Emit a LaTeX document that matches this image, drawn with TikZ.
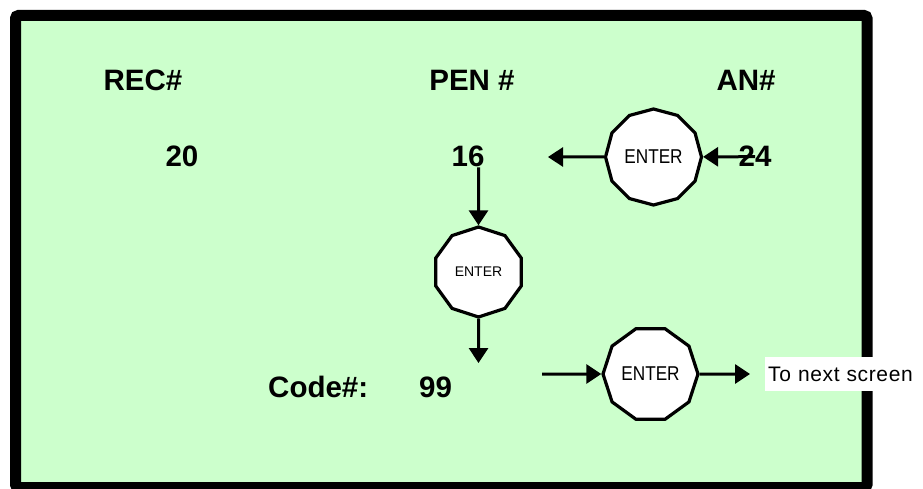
\documentclass[tikz,border=0pt]{standalone}
\usepackage{fontspec}
\setmainfont{Liberation Sans}
\definecolor{screengreen}{RGB}{204, 255, 204}
\usepackage{tikz}
\usetikzlibrary{shapes.geometric, arrows.meta, positioning, calc}
\tikzset{
    screen/.style={draw=black, line width=11pt, fill=screengreen, rounded corners=3pt},
    fieldtext/.style={inner sep=0pt, anchor=base, font=\fontsize{29.5}{31}\selectfont\bfseries},
    enterbox/.style={regular polygon, regular polygon sides=10, draw=black, fill=white,
                     line width=3.2pt, inner sep=0pt, font=\fontsize{20}{22}\selectfont},
    nextbox/.style={fill=white, anchor=west, minimum height=34pt, inner xsep=3pt,
                    text width=154pt, align=left, font=\fontsize{21}{23}\selectfont\addfontfeatures{LetterSpace=3}},
    arrow/.style={-{Triangle[length=15pt, width=19pt]}, line width=3pt},
}
\begin{document}
\begin{tikzpicture}[x=1pt, y=-1pt]
            \useasboundingbox (0, 0) rectangle (923, 489);
            \draw[screen] (15.5, 15.5) rectangle (867, 487.5);
            
            \node[fieldtext] (rec) at (143, 91) {REC\#};
            \node[fieldtext] (pen) at (472, 91) {PEN \#};
            \node[fieldtext] (an) at (746, 91) {AN\#};
            \node[fieldtext] (n20) at (182, 167) {20};
            \node[fieldtext] (n16) at (468, 167) {16};
            \node[fieldtext] (n24) at (755, 167) {24};
            \node[fieldtext, anchor=base west] (code) at (268, 397) {Code\#:};
            \node[fieldtext] (n99) at (435.5, 397) {99};
            
            \node[enterbox, regular polygon sides=12, minimum size=96pt, shape border rotate=15] (enterA) at (653.5, 157) {\scalebox{0.86}[1]{ENTER}};
            \node[enterbox, minimum size=90pt, shape border rotate=18, font=\fontsize{14}{16}\selectfont] (enterB) at (478.5, 272) {ENTER};
            \node[enterbox, minimum size=95pt] (enterC) at (650.5, 374) {\scalebox{0.86}[1]{ENTER}};
            \node[nextbox] (next) at (765, 374) {To next screen};
            
            \coordinate (tipA) at (548, 157);
            \coordinate (tipB) at (478.5, 363);
            \coordinate (startC) at (542, 374);
            
            \draw[arrow] (n24.center) -- (enterA);
            \draw[arrow] (enterA) -- (tipA);
            \draw[arrow] (enterB |- n16.south) -- (enterB);
            \draw[arrow] (enterB) -- (tipB);
            \draw[arrow] (startC) -- (enterC);
            \draw[arrow, shorten >=15pt] (enterC) -- (next);
        \end{tikzpicture}
\end{document}
